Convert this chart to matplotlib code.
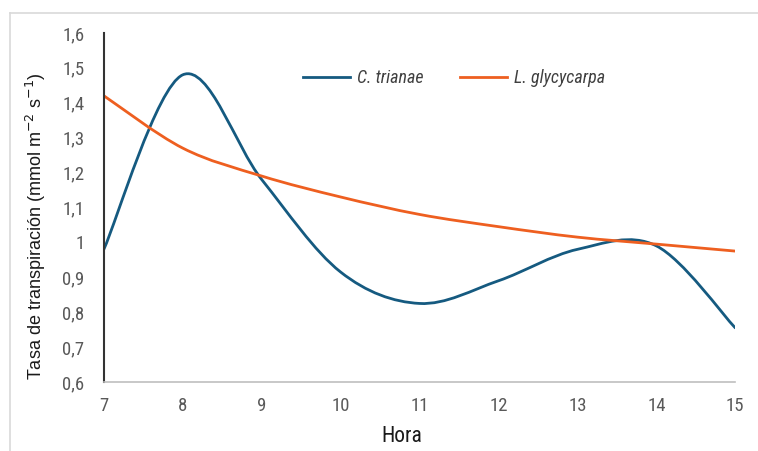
#!/usr/bin/env python

# Transpiration rate by hour for two species
import matplotlib
matplotlib.use("Agg")
import matplotlib.pyplot as plt
from matplotlib import font_manager
from matplotlib.path import Path
from matplotlib.patches import PathPatch
from matplotlib.lines import Line2D

# Data
horas = [7, 8, 9, 10, 11, 12, 13, 14, 15]
c_trianae = [0.98, 1.48, 1.18, 0.915, 0.825, 0.89, 0.98, 0.99, 0.755]
l_glycycarpa = [1.42, 1.27, 1.19, 1.13, 1.08, 1.045, 1.015, 0.995, 0.975]
y_ticks = [0.6, 0.7, 0.8, 0.9, 1.0, 1.1, 1.2, 1.3, 1.4, 1.5, 1.6]
y_labels = ["0,6", "0,7", "0,8", "0,9", "1", "1,1", "1,2", "1,3", "1,4", "1,5", "1,6"]

# pick a condensed face if one is installed
installed = {f.name for f in font_manager.fontManager.ttflist}
narrow_name = "Liberation Sans"
for cand in ["Liberation Sans Narrow", "Roboto Condensed", "Open Sans Condensed",
             "Noto Sans Condensed", "DejaVu Sans Condensed"]:
    if cand in installed:
        narrow_name = cand
        break
narrow = [narrow_name, "DejaVu Sans"]
tick_size = 13.5 if narrow_name != "Liberation Sans" else 12


def smooth_path(x, y):
    # Excel-like smoothed line: cubic Bezier through each point
    verts = [(x[0], y[0])]
    codes = [Path.MOVETO]
    n = len(x)
    for i in range(n - 1):
        x0, y0 = (x[i - 1], y[i - 1]) if i > 0 else (x[i], y[i])
        x3, y3 = (x[i + 2], y[i + 2]) if i + 2 < n else (x[i + 1], y[i + 1])
        c1 = (x[i] + (x[i + 1] - x0) / 6, y[i] + (y[i + 1] - y0) / 6)
        c2 = (x[i + 1] - (x3 - x[i]) / 6, y[i + 1] - (y3 - y[i]) / 6)
        verts += [c1, c2, (x[i + 1], y[i + 1])]
        codes += [Path.CURVE4] * 3
    return Path(verts, codes)


fig = plt.figure(figsize=(7.58, 4.51), dpi=100)
# light frame (left and top edges visible in the reference)
frame_x, frame_y = 0.013, 0.972
fig.add_artist(Line2D([frame_x, frame_x], [0, frame_y], transform=fig.transFigure,
                      color="#d9d9d9", lw=1.2))
fig.add_artist(Line2D([frame_x, 1], [frame_y, frame_y], transform=fig.transFigure,
                      color="#d9d9d9", lw=1.2))

ax = fig.add_axes([0.137, 0.153, 0.833, 0.774])

series = [("C. trianae", c_trianae, "#155a80"), ("L. glycycarpa", l_glycycarpa, "#ee5f20")]
handles = []
for name, vals, col in series:
    ax.add_patch(PathPatch(smooth_path(horas, vals), fill=False, edgecolor=col,
                           lw=2.0, capstyle="round", joinstyle="round"))
    handles.append(Line2D([], [], color=col, lw=2.0, label=name))

ax.set_xlim(horas[0], horas[-1])
ax.set_ylim(y_ticks[0], y_ticks[-1])
ax.set_xticks(horas)
ax.set_xticklabels([str(h) for h in horas], family=narrow, fontsize=tick_size, color="#595959")
ax.set_yticks(y_ticks)
ax.set_yticklabels(y_labels, family=narrow, fontsize=tick_size, color="#595959")
ax.tick_params(axis="x", length=0, pad=11)
ax.tick_params(axis="y", length=0, pad=14)

for s in ["top", "right"]:
    ax.spines[s].set_visible(False)
ax.spines["left"].set_color("#333333")
ax.spines["left"].set_linewidth(1.5)
ax.spines["bottom"].set_color("#bfbfbf")
ax.spines["bottom"].set_linewidth(1.2)

ax.set_xlabel("Hora", family=narrow, fontsize=15.5, color="#1a1a1a")
ax.xaxis.set_label_coords(0.472, -0.125)
ax.set_ylabel("Tasa de transpiración (mmol m$^{-2}$ s$^{-1}$)", family="Liberation Sans",
              fontsize=13, color="#1a1a1a")
ax.yaxis.set_label_coords(-0.088, 0.445)

leg = ax.legend(handles=handles, loc="center", bbox_to_anchor=(0.555, 0.87), ncol=2,
                frameon=False, handlelength=2.6, columnspacing=2.0, handletextpad=0.4,
                prop={"family": narrow, "style": "italic", "size": 13})
for t in leg.get_texts():
    t.set_color("#404040")

fig.savefig("out.png", dpi=100)
plt.close(fig)
